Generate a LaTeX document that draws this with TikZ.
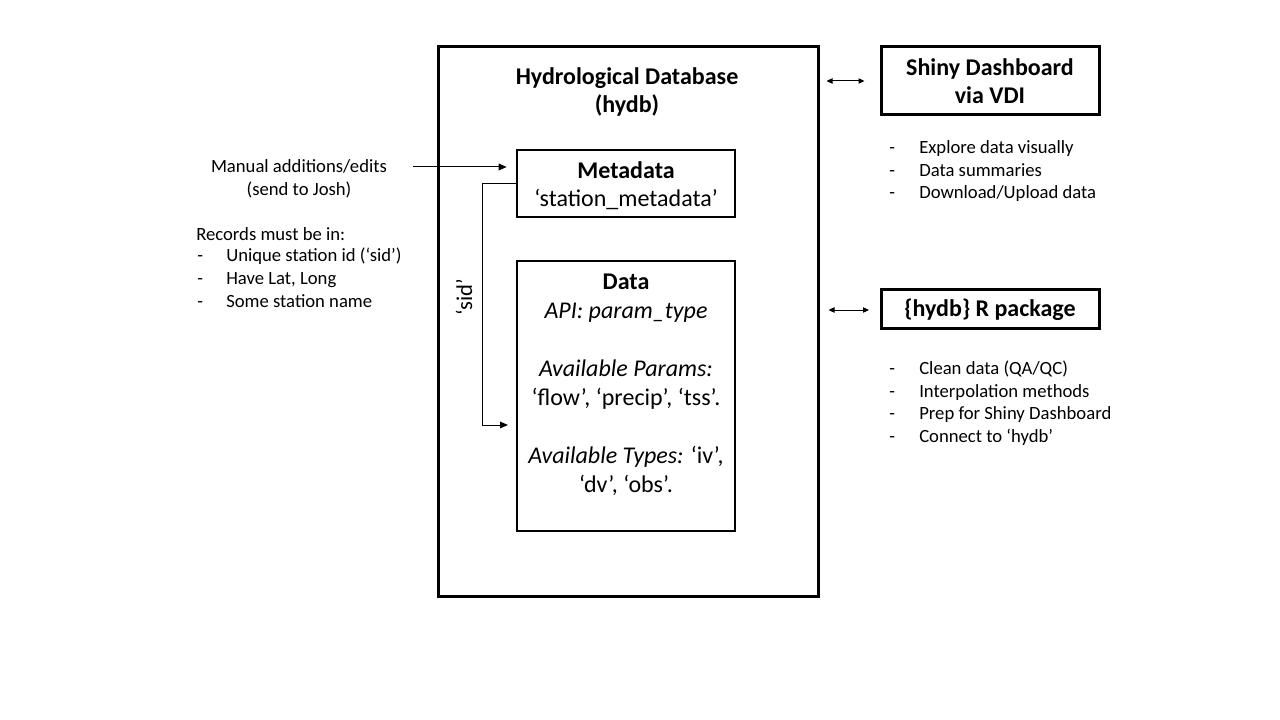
\documentclass[tikz,border=0pt]{standalone}
\usepackage{fontspec}
\setmainfont{Carlito}
\usetikzlibrary{arrows.meta}
\newcommand{\bigsz}{\fontsize{18pt}{21pt}\selectfont}
\newcommand{\medsz}{\fontsize{14pt}{17.25pt}\selectfont}
\begin{document}
\begin{tikzpicture}[x=0.75pt,y=-0.75pt,
  thickbox/.style={draw,line width=2.25pt,inner sep=0pt,minimum width=163.5pt},
  thinbox/.style={draw,line width=1.5pt,inner sep=0pt,minimum width=163.5pt},
  bigtext/.style={font=\bigsz,align=center,inner sep=0pt},
  medtext/.style={font=\medsz,align=center,inner sep=0pt},
  item/.style={font=\medsz,anchor=base west,inner sep=0pt},
  conn/.style={line width=0.75pt,-{Triangle[length=6pt,width=5pt]}},
  dbl/.style={line width=0.75pt,{Triangle[length=4.5pt,width=4pt]}-{Triangle[length=4.5pt,width=4pt]}}
]
\useasboundingbox (0,0) rectangle (1280,720);
\fill[white] (0,0) rectangle (1280,720);

% main database box
\node[thickbox,minimum width=285pt,minimum height=411.75pt] (outer) at (628,321.5) {};
\node[bigtext,font=\bigsz\bfseries] (title) at (627,92) {Hydrological Database\\(hydb)};

% metadata
\node[thinbox,minimum height=50.25pt] (meta) at (626,183.5) {};
\node[bigtext] (metatext) at (626,186) {\textbf{Metadata}\\‘station\_metadata’};

% data
\node[thinbox,minimum height=202.5pt] (data) at (626,396) {};
\node[font=\fontsize{18pt}{21.75pt}\selectfont,align=center,inner sep=0pt] (datatext) at (626,384.5)
  {\textbf{Data}\\\textit{API: param\_type}\\[21.75pt]\textit{Available Params:}\\‘flow’, ‘precip’, ‘tss’.\\[21.75pt]\textit{Available Types:} ‘iv’,\\‘dv’, ‘obs’.};

% sid connector
\coordinate (sidend) at (508,425);
\draw[conn] (meta.west) -- ++(-34,0) |- (sidend);
\node[font=\fontsize{17pt}{20pt}\selectfont,rotate=90,inner sep=0pt] (sid) at (464,297) {‘sid’};

% manual additions
\node[medtext] (manual) at (299,178.5) {Manual additions/edits\\(send to Josh)};
\coordinate (manstart) at (413,167);
\draw[conn,shorten >=7pt] (manstart) -- (manstart -| meta.west);

\node[item] (rec) at (196,240) {Records must be in:};
\node[item] (rd1) at (197,262) {-};
\node[item] (r1) at (226,262) {Unique station id (‘sid’)};
\node[item] (rd2) at (197,284) {-};
\node[item] (r2) at (226,284) {Have Lat, Long};
\node[item] (rd3) at (197,307) {-};
\node[item] (r3) at (226,307) {Some station name};

% shiny dashboard
\node[thickbox,minimum height=51pt] (shiny) at (990,81) {};
\node[bigtext,font=\bigsz\bfseries] (shinytext) at (990,81.5) {Shiny Dashboard\\via VDI};
\draw[dbl,shorten <=5.25pt,shorten >=11.25pt] (outer.east |- shiny.west) -- (shiny.west);

\node[item] (sd1) at (889,154) {-};
\node[item] (s1) at (919,154) {Explore data visually};
\node[item] (sd2) at (889,177) {-};
\node[item] (s2) at (919,177) {Data summaries};
\node[item] (sd3) at (889,199) {-};
\node[item] (s3) at (919,199) {Download/Upload data};

% R package
\node[thickbox,minimum height=29.25pt] (pkg) at (990,308.5) {};
\node[font=\bigsz\bfseries,inner sep=0pt,anchor=base] (pkgtext) at (990,316) {\{hydb\} R package};
\coordinate (pkgarrow) at (869,310);
\draw[dbl,shorten <=6.75pt] (outer.east |- pkgarrow) -- (pkgarrow);

\node[item] (pd1) at (889,374) {-};
\node[item] (p1) at (919,374) {Clean data (QA/QC)};
\node[item] (pd2) at (889,397) {-};
\node[item] (p2) at (919,397) {Interpolation methods};
\node[item] (pd3) at (889,419) {-};
\node[item] (p3) at (919,419) {Prep for Shiny Dashboard};
\node[item] (pd4) at (889,442) {-};
\node[item] (p4) at (919,442) {Connect to ‘hydb’};
\end{tikzpicture}
\end{document}
